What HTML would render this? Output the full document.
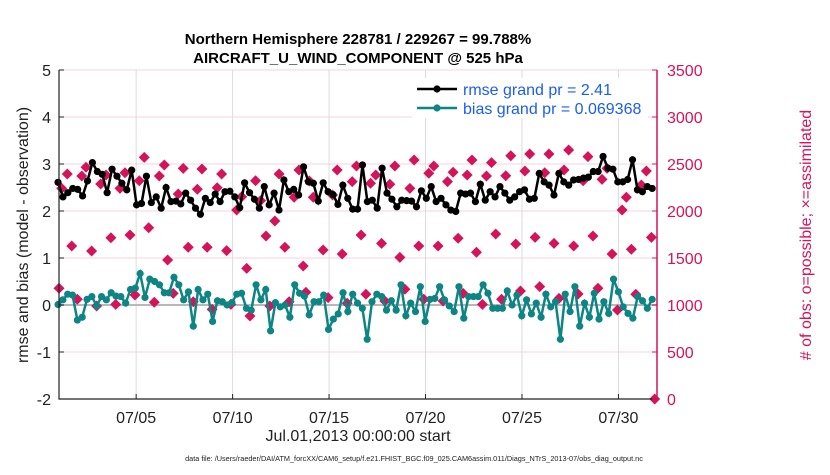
<!DOCTYPE html>
<html><head><meta charset="utf-8"><style>
body{margin:0;background:#fff;width:830px;height:470px;overflow:hidden;font-family:"Liberation Sans",sans-serif}
</style></head><body>
<svg id="chart" width="830" height="470" xmlns="http://www.w3.org/2000/svg" font-family="Liberation Sans, sans-serif"></svg>
<script>
const rmseVals=[2.61,2.30,2.39,2.48,2.46,2.32,2.64,3.03,2.84,2.78,2.39,2.89,2.74,2.59,2.45,2.87,2.13,2.16,2.74,2.18,2.30,2.06,2.50,2.20,2.21,2.15,2.38,2.23,2.06,1.93,2.27,2.18,2.36,2.20,2.41,2.42,2.30,2.07,2.60,2.39,2.25,2.06,2.52,2.13,2.38,2.02,2.66,2.41,2.46,2.34,2.94,2.62,2.59,2.21,2.60,2.41,2.35,2.14,2.55,2.27,2.04,
2.04,2.98,2.20,2.23,2.06,2.91,2.38,2.25,2.09,2.23,2.22,2.21,2.09,2.43,2.27,2.52,2.20,2.27,2.13,2.02,1.99,2.38,2.36,2.38,2.20,2.57,2.23,2.41,2.30,2.52,2.38,2.23,2.30,2.41,2.45,2.25,2.27,2.80,2.62,2.55,2.34,2.80,2.62,2.55,2.66,2.67,2.70,2.72,2.84,2.84,3.16,2.91,2.89,2.62,2.62,2.67,3.09,2.45,2.41,2.52,2.48];
const biasVals=[0.01,0.11,0.23,0.21,-0.32,-0.26,0.12,0.18,-0.02,0.18,0.11,0.26,0.19,0.18,0.04,0.33,0.36,0.67,0.16,0.55,0.50,0.43,0.26,0.26,0.59,0.43,0.11,0.28,-0.45,0.33,0.11,0.23,-0.35,0.09,0.07,0,0.05,0.23,0.25,-0.07,-0.11,0.43,0.11,0.33,-0.55,0.05,-0.04,0,-0.26,0.43,0.25,0.19,-0.21,0.07,0.07,0.21,-0.52,-0.30,-0.19,0.26,-0.14,0.23,0.04,
-0.07,-0.73,0.07,0.23,0.18,-0.11,0.09,-0.11,0.43,-0.23,0.04,-0.14,0.39,-0.35,0.12,0.14,0.39,0.11,-0.02,-0.14,0.39,-0.28,0.18,0.18,0.18,0.43,0.25,-0.07,-0.07,-0.07,0.30,0,0.21,-0.23,0.11,-0.19,0.04,-0.26,0.23,-0.04,0.07,-0.73,0.23,-0.14,0.39,-0.45,0.04,-0.26,0.25,-0.30,0.07,-0.18,0.55,0.28,-0.04,-0.18,-0.28,0.18,0.09,-0.07,0.12];
const obsDays=[0.0,0.14,0.43,0.66,0.95,1.18,1.40,1.69,1.95,2.16,2.44,2.69,2.94,3.16,3.42,3.68,3.94,4.16,4.42,4.65,4.94,5.20,5.46,5.63,5.92,6.18,6.44,6.70,6.96,7.17,7.41,7.68,7.94,8.20,8.43,8.69,8.91,9.21,9.47,9.73,9.90,10.19,10.45,10.73,10.93,11.19,11.41,11.71,11.93,12.19,12.44,12.66,12.80,12.98,13.18,13.69,13.95,14.18,14.42,14.68,14.94,15.20,15.42,15.66,15.91,16.15,16.42,16.72,16.89,17.15,17.41,17.67,17.93,18.19,18.41,18.65,18.91,19.17,19.43,19.65,19.91,20.14,20.43,20.69,20.95,21.16,21.41,21.64,21.95,22.16,22.42,22.64,22.94,23.16,23.42,23.68,23.92,24.15,24.40,24.68,24.92,25.18,25.40,25.66,25.92,26.18,26.42,26.68,26.91,27.17,27.42,27.68,27.94,28.15,28.41,28.67,28.95,29.19,29.41,29.67,29.90,30.19,30.45,30.71,30.88];
const obsCounts=[1178,2241,2394,1628,1061,2372,2465,1574,989,2287,2383,1716,1007,2241,2407,1745,1106,2322,2571,1822,1029,2372,2489,1479,1124,2181,2454,1614,1035,2231,2447,1614,954,2248,2394,1578,1007,2011,2152,1390,883,2322,2110,1734,989,1894,2394,1614,1035,2146,2436,1415,1135,2319,2146,1585,1078,2170,2436,1543,1018,2312,2479,1745,1114,2295,2383,1656,1043,2284,2479,1507,1167,2241,2543,1628,1061,2401,2479,1628,1043,2312,2412,1710,1124,2383,2543,1561,1007,2372,2514,1755,1061,2375,2588,1649,1149,2426,2606,1720,1195,2407,2606,1656,1071,2436,2649,1628,1117,2322,2578,1734,1178,2337,2454,1543,947,2011,2146,1593,1114,2277,2426,1720,0];
const xTickDays=[4,9,14,19,24,29];
const xTickLabels=["07/05","07/10","07/15","07/20","07/25","07/30"];
const yTicks=[-2,-1,0,1,2,3,4,5];
const y2Ticks=[0,500,1000,1500,2000,2500,3000,3500];
const seriesStart=-0.05, seriesEnd=30.75;

const L=59,R=657,T=70,B=399;
const X=d=>L+(d/31)*(R-L);
const Y=v=>B-(v+2)/7*(B-T);
const Y2=c=>B-c/3500*(B-T);
const svg=document.getElementById('chart');
const NS='http://www.w3.org/2000/svg';
function mk(tag,attrs,parent){const e=document.createElementNS(NS,tag);for(const k in attrs)e.setAttribute(k,attrs[k]);(parent||svg).appendChild(e);return e;}
const red='#d4145a',teal='#0e8585';
yTicks.forEach(v=>{const g=mk('line',{x1:L,x2:R,y1:Y(v),y2:Y(v),stroke:'#f6d3e0','stroke-width':1});

});
xTickDays.forEach(d=>{const g=mk('line',{x1:X(d),x2:X(d),y1:T,y2:B,stroke:'#dcdcdc','stroke-width':1});

});
const zl=mk('line',{x1:L,x2:R,y1:Y(0),y2:Y(0),stroke:'#b8b8b8','stroke-width':2});


obsCounts.forEach((c,i)=>{const x=X(obsDays[i]),y=Y2(c);
const p=mk('path',{d:`M${x} ${y-5.5}L${x+5.5} ${y}L${x} ${y+5.5}L${x-5.5} ${y}Z`,fill:red});

});
function series(vals,color,name){
 const n=vals.length;const px=i=>X(seriesStart+i*(seriesEnd-seriesStart)/(n-1));
 const pl=mk('polyline',{points:vals.map((v,i)=>px(i)+','+Y(v)).join(' '),fill:'none',stroke:color,'stroke-width':2.5});
 
 
 vals.forEach((v,i)=>{const c=mk('circle',{cx:px(i),cy:Y(v),r:3.6,fill:color});
 
 });
}
series(biasVals,teal,'bias');
series(rmseVals,'#000','rmse');
const ax=mk('path',{d:`M${L} ${T}V${B}H${R}`,fill:'none',stroke:'#222','stroke-width':1.2});


const ra=mk('line',{x1:R,x2:R,y1:T,y2:B,stroke:red,'stroke-width':1.5});


yTicks.forEach(v=>{mk('line',{x1:L,x2:L+5,y1:Y(v),y2:Y(v),stroke:'#222'});
const t=mk('text',{x:L-8,y:Y(v)+6,'text-anchor':'end','font-size':16,fill:'#222'});t.textContent=v;

});
y2Ticks.forEach(v=>{mk('line',{x1:R-5,x2:R,y1:Y2(v),y2:Y2(v),stroke:red});
const t=mk('text',{x:R+10,y:Y2(v)+6,'font-size':16,fill:red});t.textContent=v;

});
xTickDays.forEach((d,i)=>{mk('line',{x1:X(d),x2:X(d),y1:B-5,y2:B,stroke:'#222'});
const t=mk('text',{x:X(d),y:B+24,'text-anchor':'middle','font-size':16,fill:'#222'});t.textContent=xTickLabels[i];

});
</script>
<svg style="position:absolute;left:0;top:0" width="830" height="470" xmlns="http://www.w3.org/2000/svg" font-family="Liberation Sans, sans-serif">
<text x="358" y="44" text-anchor="middle" font-size="15" font-weight="bold">Northern Hemisphere 228781 / 229267 = 99.788%</text>
<text x="358" y="63" text-anchor="middle" font-size="15" font-weight="bold">AIRCRAFT_U_WIND_COMPONENT @ 525 hPa</text>
<text transform="translate(28,235) rotate(-90)" text-anchor="middle" font-size="16" fill="#222">rmse and bias (model - observation)</text>
<text transform="translate(811,235) rotate(-90)" text-anchor="middle" font-size="16" fill="#d4145a"># of obs: o=possible; ×=assimilated</text>
<text x="358" y="441" text-anchor="middle" font-size="16" fill="#222">Jul.01,2013 00:00:00 start</text>
<text x="414" y="461" text-anchor="middle" font-size="7.3" fill="#222">data file: /Users/raeder/DAI/ATM_forcXX/CAM6_setup/f.e21.FHIST_BGC.f09_025.CAM6assim.011/Diags_NTrS_2013-07/obs_diag_output.nc</text>
<g>
<rect x="412" y="78" width="236" height="40" fill="#fff" stroke="none"/>
<g><line x1="417" y1="89" x2="457" y2="89" stroke="#000" stroke-width="2.5"/><circle cx="437" cy="89" r="3.6" fill="#000"/><text x="463" y="95" font-size="16" fill="#1a5ef0">rmse grand pr = 2.41</text></g>
<g><line x1="417" y1="108" x2="457" y2="108" stroke="#0e8585" stroke-width="2.5"/><circle cx="437" cy="108" r="3.6" fill="#0e8585"/><text x="463" y="114" font-size="16" fill="#1a5ef0">bias grand pr = 0.069368</text></g>
</g>
</svg>
</body></html>
